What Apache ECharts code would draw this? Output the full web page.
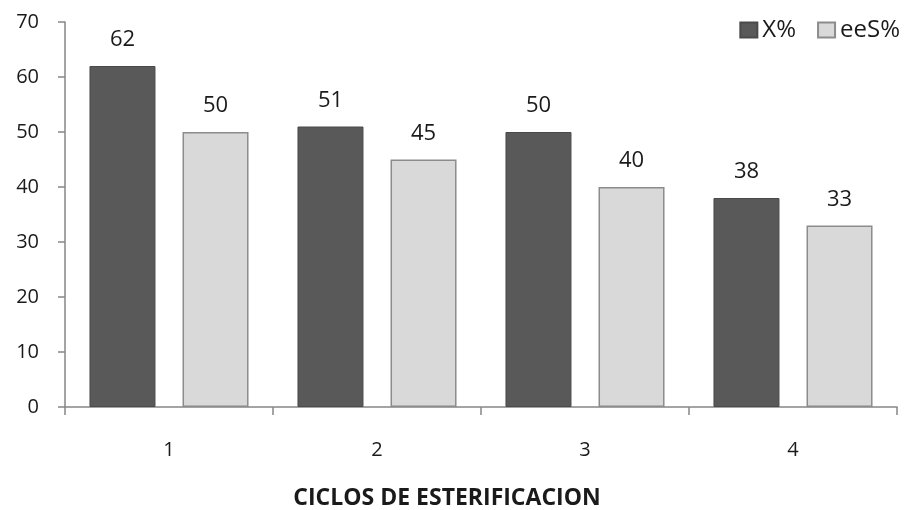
<!DOCTYPE html>
<html>
<head>
<meta charset="utf-8">
<script src="https://cdn.jsdelivr.net/npm/echarts@6/dist/echarts.min.js"></script>
<style>
  html, body { margin: 0; padding: 0; background: #ffffff; }
  #chart { width: 909px; height: 510px; }
</style>
</head>
<body>
<div id="chart"></div>
<script>
// Esterification cycles and results per cycle
const ciclos = ['1', '2', '3', '4'];
const conversion = [62, 51, 50, 38];   // X%
const eeS = [50, 45, 40, 33];          // eeS%
const yTicks = [0, 10, 20, 30, 40, 50, 60, 70];

const FONT = '"Open Sans", "Liberation Sans", sans-serif';
const axisGray = '#868686';
const textColor = '#1a1a1a';

const chart = echarts.init(document.getElementById('chart'), null, { renderer: 'canvas' });

chart.setOption({
  animation: false,
  backgroundColor: '#ffffff',
  textStyle: { fontFamily: FONT },
  grid: { left: 65, right: 12, top: 22, bottom: 103, containLabel: false, outerBoundsMode: 'none' },
  legend: {
    right: 4,
    top: 13,
    itemWidth: 17,
    itemHeight: 15,
    itemGap: 21,
    textStyle: { fontSize: 24, color: textColor, fontFamily: FONT },
    data: [
      { name: 'X%', icon: 'rect' },
      { name: 'eeS%', icon: 'rect' }
    ]
  },
  xAxis: {
    type: 'category',
    data: ciclos,
    name: 'CICLOS DE ESTERIFICACION',
    nameLocation: 'middle',
    nameGap: 80,
    nameTextStyle: {
      fontSize: 23, fontWeight: 'bold', color: textColor, fontFamily: FONT,
      padding: [0, 68, 0, 0]
    },
    axisLine: { lineStyle: { color: axisGray, width: 1.5 } },
    axisTick: { show: true, length: 8, alignWithLabel: false, lineStyle: { color: axisGray, width: 1.5 } },
    axisLabel: { fontSize: 20, color: textColor, margin: 33, fontFamily: FONT }
  },
  yAxis: {
    type: 'value',
    min: yTicks[0],
    max: yTicks[yTicks.length - 1],
    interval: 10,
    splitLine: { show: false },
    axisLine: { show: true, lineStyle: { color: axisGray, width: 1.5 } },
    axisTick: { show: true, length: 7, lineStyle: { color: axisGray, width: 1.5 } },
    axisLabel: { fontSize: 20, color: textColor, margin: 26, fontFamily: FONT }
  },
  series: [
    {
      name: 'X%',
      type: 'bar',
      data: conversion,
      barWidth: 66,
      barGap: '41%',
      itemStyle: { color: '#595959', borderColor: '#4a4a4a', borderWidth: 1 },
      label: { show: true, position: 'top', distance: 15, fontSize: 22, color: textColor, fontFamily: FONT }
    },
    {
      name: 'eeS%',
      type: 'bar',
      data: eeS,
      barWidth: 66,
      itemStyle: { color: '#d9d9d9', borderColor: '#8c8c8c', borderWidth: 1.5 },
      label: { show: true, position: 'top', distance: 15, fontSize: 22, color: textColor, fontFamily: FONT }
    }
  ]
});
</script>
</body>
</html>
